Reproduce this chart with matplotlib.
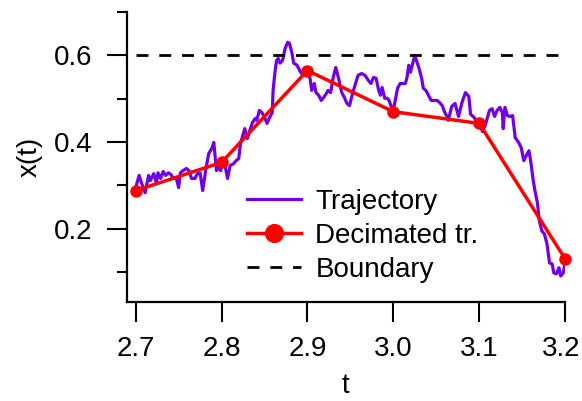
import matplotlib
matplotlib.use("Agg")
import matplotlib.pyplot as plt
from matplotlib.transforms import ScaledTranslation

plt.rcParams['font.family'] = ['Liberation Sans', 'DejaVu Sans']

# Trajectory samples (t, x)
traj_t = [2.700, 2.704, 2.707, 2.711, 2.715, 2.717, 2.721, 2.724, 2.726, 2.729,
          2.732, 2.735, 2.738, 2.741, 2.744, 2.747, 2.750, 2.752, 2.755, 2.759,
          2.762, 2.765, 2.769, 2.772, 2.775, 2.778, 2.782, 2.785, 2.789, 2.791,
          2.794, 2.796, 2.799, 2.801, 2.804, 2.807, 2.810, 2.814, 2.817, 2.820,
          2.822, 2.827, 2.830, 2.833, 2.836, 2.839, 2.841, 2.844, 2.847, 2.850,
          2.853, 2.856, 2.859, 2.860, 2.862, 2.864, 2.866, 2.868, 2.871, 2.874,
          2.877, 2.879, 2.882, 2.884, 2.888, 2.891, 2.893, 2.896, 2.899, 2.901,
          2.903, 2.905, 2.908, 2.910, 2.913, 2.916, 2.919, 2.922, 2.924, 2.927,
          2.930, 2.933, 2.936, 2.940, 2.943, 2.946, 2.949, 2.952, 2.956, 2.959,
          2.963, 2.967, 2.971, 2.974, 2.977, 2.980, 2.983, 2.985, 2.987, 2.990,
          2.993, 2.995, 2.998, 3.000, 3.003, 3.005, 3.008, 3.011, 3.014, 3.016,
          3.018, 3.020, 3.022, 3.025, 3.028, 3.030, 3.033, 3.035, 3.038, 3.041,
          3.044, 3.047, 3.051, 3.054, 3.057, 3.060, 3.062, 3.064, 3.068, 3.072,
          3.076, 3.080, 3.084, 3.088, 3.090, 3.094, 3.098, 3.101, 3.104, 3.107,
          3.110, 3.112, 3.115, 3.118, 3.121, 3.124, 3.127, 3.128, 3.130, 3.133,
          3.136, 3.139, 3.142, 3.146, 3.149, 3.152, 3.155, 3.158, 3.160, 3.163,
          3.165, 3.168, 3.170, 3.173, 3.176, 3.179, 3.182, 3.185, 3.187, 3.190,
          3.193, 3.195, 3.198, 3.200]
traj_x = [0.295, 0.323, 0.304, 0.283, 0.323, 0.311, 0.327, 0.306, 0.329, 0.316,
          0.332, 0.323, 0.329, 0.325, 0.316, 0.318, 0.295, 0.329, 0.334, 0.339,
          0.334, 0.316, 0.316, 0.327, 0.329, 0.288, 0.341, 0.373, 0.387, 0.399,
          0.334, 0.341, 0.334, 0.357, 0.346, 0.316, 0.346, 0.350, 0.357, 0.362,
          0.397, 0.431, 0.408, 0.427, 0.445, 0.454, 0.450, 0.473, 0.468, 0.457,
          0.443, 0.457, 0.468, 0.519, 0.558, 0.588, 0.593, 0.582, 0.588, 0.616,
          0.630, 0.628, 0.605, 0.582, 0.577, 0.565, 0.558, 0.570, 0.570, 0.558,
          0.547, 0.519, 0.535, 0.514, 0.508, 0.496, 0.503, 0.512, 0.519, 0.514,
          0.549, 0.572, 0.549, 0.514, 0.503, 0.489, 0.484, 0.508, 0.535, 0.554,
          0.558, 0.554, 0.542, 0.535, 0.549, 0.547, 0.519, 0.508, 0.526, 0.501,
          0.501, 0.496, 0.480, 0.473, 0.503, 0.524, 0.535, 0.535, 0.535, 0.549,
          0.577, 0.561, 0.577, 0.600, 0.582, 0.570, 0.547, 0.524, 0.519, 0.508,
          0.496, 0.496, 0.496, 0.491, 0.484, 0.468, 0.461, 0.450, 0.482, 0.489,
          0.459, 0.491, 0.514, 0.505, 0.464, 0.457, 0.445, 0.438, 0.424, 0.438,
          0.459, 0.473, 0.477, 0.459, 0.473, 0.480, 0.468, 0.431, 0.480, 0.461,
          0.459, 0.461, 0.410, 0.399, 0.387, 0.357, 0.369, 0.380, 0.357, 0.311,
          0.288, 0.258, 0.219, 0.195, 0.188, 0.165, 0.121, 0.119, 0.098, 0.096,
          0.110, 0.091, 0.098, 0.119]

# Decimated trajectory
dec_t = [2.7, 2.8, 2.9, 3.0, 3.1, 3.2]
dec_x = [0.288, 0.353, 0.565, 0.470, 0.443, 0.131]

# Boundary
boundary_t = [2.7, 3.2]
boundary_x = 0.6

xticks = [2.7, 2.8, 2.9, 3.0, 3.1, 3.2]
xticklabels = ['2.7', '2.8', '2.9', '3.0', '3.1', '3.2']
yticks = [0.2, 0.4, 0.6]
yticklabels = ['0.2', '0.4', '0.6']
yminor = [0.1, 0.3, 0.5, 0.7]

FS = 20

fig = plt.figure(figsize=(5.82, 4.01), dpi=100)
ax = fig.add_axes([0.2177, 0.2469, 0.7531, 0.7232])

purple = '#7000e6'
ax.plot(traj_t, traj_x, color=purple, lw=2.3, label='Trajectory', zorder=2)
ax.plot(dec_t, dec_x, color='#ff0000', lw=2.5, marker='o', markersize=8,
        label='Decimated tr.', zorder=3, clip_on=False)
ax.plot(boundary_t, [boundary_x, boundary_x], color='black', lw=2.0,
        dashes=(4.3, 3.9), label='Boundary', zorder=4)

ax.set_xlim(2.6895, 3.2)
ax.set_ylim(0.031, 0.7)

for s in ['top', 'right']:
    ax.spines[s].set_visible(False)
for s in ['left', 'bottom']:
    ax.spines[s].set_linewidth(1.6)

ax.set_xticks(xticks)
ax.set_xticklabels(xticklabels)
ax.set_yticks(yticks)
ax.set_yticklabels(yticklabels)
ax.set_yticks(yminor, minor=True)
ax.tick_params(axis='both', which='major', direction='out', length=14.4,
               width=1.5, labelsize=FS)
ax.tick_params(axis='x', which='major', pad=10)
ax.tick_params(axis='y', which='major', pad=10)
ax.tick_params(axis='y', which='minor', direction='out', length=7.2, width=1.5)

# keep the last tick label inside the canvas
last = ax.get_xticklabels()[-1]
last.set_transform(last.get_transform() + ScaledTranslation(-4 / 100, 0, fig.dpi_scale_trans))

ax.set_xlabel('t', fontsize=FS, labelpad=8)
ax.set_ylabel('x(t)', fontsize=FS, labelpad=8)

leg = ax.legend(loc='upper left', bbox_to_anchor=(0.275, 0.39), frameon=False,
                fontsize=FS, handlelength=1.95, handletextpad=0.5,
                labelspacing=0.29, markerscale=1.6, borderaxespad=0, borderpad=0)

fig.savefig('out.png', dpi=100)
